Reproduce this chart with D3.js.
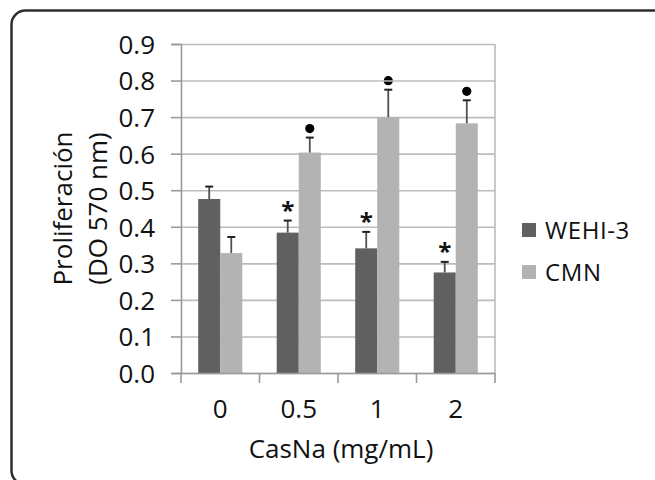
<!DOCTYPE html>
<html>
<head>
<meta charset="utf-8">
<script src="https://cdn.jsdelivr.net/npm/d3@7"></script>
<style>
  body { margin: 0; background: #fff; }
  text { font-family: "Open Sans", sans-serif; fill: #111; }
</style>
</head>
<body>
<script>
// data
var doses = ["0", "0.5", "1", "2"];
var series = ["WEHI-3", "CMN"];
var wehi = [0.476, 0.384, 0.341, 0.275];
var wehiErr = [0.034, 0.033, 0.045, 0.029];
var cmn = [0.328, 0.603, 0.700, 0.683];
var cmnErr = [0.044, 0.041, 0.075, 0.063];
var wehiSig = ["", "*", "*", "*"];
var cmnSig = ["", "dot", "dot", "dot"];
var yTicks = [0, 0.1, 0.2, 0.3, 0.4, 0.5, 0.6, 0.7, 0.8, 0.9];
var colors = ["#606060", "#b3b3b3"];

var W = 655, H = 480;
var plotLeft = 181, plotRight = 495, plotTop = 44, plotBottom = 373;

var svg = d3.select("body").append("svg")
    .attr("width", W)
    .attr("height", H);

// outer frame
svg.append("rect")
   .attr("x", 11.5).attr("y", 10.5)
   .attr("width", 700).attr("height", 474)
   .attr("rx", 14)
   .attr("fill", "none")
   .attr("stroke", "#2e2e2e")
   .attr("stroke-width", 2.5);

var y = d3.scaleLinear().domain([0, 0.9]).range([plotBottom, plotTop]);
var xGroup = d3.scaleBand().domain(doses).range([plotLeft, plotRight]);
var xInner = d3.scaleBand().domain(series).range([0, xGroup.bandwidth()]).paddingOuter(0.78);

// table built from the arrays
var rows = doses.map(function(d, i) {
	return [
		{dose: d, s: series[0], v: wehi[i], e: wehiErr[i], sig: wehiSig[i], c: colors[0]},
		{dose: d, s: series[1], v: cmn[i], e: cmnErr[i], sig: cmnSig[i], c: colors[1]}
	];
});
var flat = [].concat.apply([], rows);

function barMid(d) {
	return xGroup(d.dose) + xInner(d.s) + xInner.bandwidth() / 2;
}

// significance markers (drawn under the grid, like the original)
var marks = svg.append("g");
flat.forEach(function(d) {
	var topY = y(d.v + d.e);
	if (d.sig == "*") {
		marks.append("text")
		     .attr("x", barMid(d)).attr("y", topY - 2)
		     .attr("text-anchor", "middle")
		     .style("font-size", "24px")
		     .style("font-weight", "bold")
		     .text("*");
	} else if (d.sig == "dot") {
		marks.append("circle")
		     .attr("cx", barMid(d)).attr("cy", topY - 9)
		     .attr("r", 4.6)
		     .attr("fill", "#000");
	}
});

// gridlines
svg.append("g")
   .attr("transform", "translate(" + plotLeft + ",0)")
   .call(d3.axisLeft(y).tickValues(yTicks).tickSize(-(plotRight - plotLeft)).tickFormat(""))
   .call(function(g) {
   	g.select(".domain").remove();
   	g.selectAll("line").attr("stroke", "#bcbcbc").attr("stroke-width", 1.6);
   });

// right border of plot area
svg.append("line")
   .attr("x1", plotRight).attr("x2", plotRight)
   .attr("y1", y(0.9)).attr("y2", y(0))
   .attr("stroke", "#bcbcbc").attr("stroke-width", 1.6);

// y axis
svg.append("g")
   .attr("transform", "translate(" + plotLeft + ",0)")
   .call(d3.axisLeft(y).tickValues(yTicks).tickSize(10).tickPadding(16).tickFormat(d3.format(".1f")))
   .call(function(g) {
   	g.select(".domain").attr("stroke", "#9a9a9a").attr("stroke-width", 1.6);
   	g.selectAll("line").attr("stroke", "#9a9a9a").attr("stroke-width", 1.6);
   	g.selectAll("text").style("font-size", "26px").attr("fill", "#111").attr("dy", "0.36em");
   });

// bars
svg.append("g").selectAll("rect")
   .data(flat)
   .enter().append("rect")
   .attr("x", function(d) { return xGroup(d.dose) + xInner(d.s); })
   .attr("y", function(d) { return y(d.v); })
   .attr("width", xInner.bandwidth())
   .attr("height", function(d) { return y(0) - y(d.v); })
   .attr("fill", function(d) { return d.c; });

// error bars, upward only
var err = svg.append("g").selectAll("g")
   .data(flat)
   .enter().append("g");

err.append("line")
   .attr("x1", barMid)
   .attr("x2", barMid)
   .attr("y1", function(d) { return y(d.v); })
   .attr("y2", function(d) { return y(d.v + d.e); })
   .attr("stroke", "#505050").attr("stroke-width", 1.8);

err.append("line")
   .attr("x1", function(d) { return barMid(d) - 4; })
   .attr("x2", function(d) { return barMid(d) + 4; })
   .attr("y1", function(d) { return y(d.v + d.e); })
   .attr("y2", function(d) { return y(d.v + d.e); })
   .attr("stroke", "#222").attr("stroke-width", 2);

// x axis
var xAxis = svg.append("g")
   .attr("transform", "translate(0," + plotBottom + ")")
   .call(d3.axisBottom(xGroup).tickSize(0).tickPadding(27))
   .call(function(g) {
   	g.select(".domain").attr("stroke", "#9a9a9a").attr("stroke-width", 1.6);
   	g.selectAll("text").style("font-size", "26px").attr("fill", "#111");
   });

// tick marks at the category boundaries
xAxis.selectAll(".bound")
   .data(doses.concat(["end"]))
   .enter().append("line")
   .attr("class", "bound")
   .attr("x1", function(d) { return d == "end" ? plotRight : xGroup(d); })
   .attr("x2", function(d) { return d == "end" ? plotRight : xGroup(d); })
   .attr("y1", 0).attr("y2", 10)
   .attr("stroke", "#9a9a9a").attr("stroke-width", 1.6);

// axis titles
svg.append("text")
   .attr("x", (plotLeft + plotRight) / 2 + 3)
   .attr("y", 458)
   .attr("text-anchor", "middle")
   .style("font-size", "26px")
   .text("CasNa (mg/mL)");

var yTitle = svg.append("text")
   .attr("transform", "translate(72," + (plotTop + plotBottom) / 2 + ") rotate(-90)")
   .attr("text-anchor", "middle")
   .style("font-size", "26px");
yTitle.append("tspan").attr("x", 0).attr("y", 0).text("Proliferación");
yTitle.append("tspan").attr("x", 0).attr("y", 35).text("(DO 570 nm)");

// legend
var legend = svg.selectAll(".legend")
   .data(series)
   .enter().append("g")
   .attr("class", "legend")
   .attr("transform", function(d, i) { return "translate(522," + (223 + i * 42) + ")"; });

legend.append("rect")
   .attr("width", 14).attr("height", 14)
   .attr("fill", function(d, i) { return colors[i]; });

legend.append("text")
   .attr("x", 23).attr("y", 7)
   .attr("dy", "0.36em")
   .style("font-size", "24px")
   .style("letter-spacing", "0.6px")
   .text(function(d) { return d; });
</script>
</body>
</html>
